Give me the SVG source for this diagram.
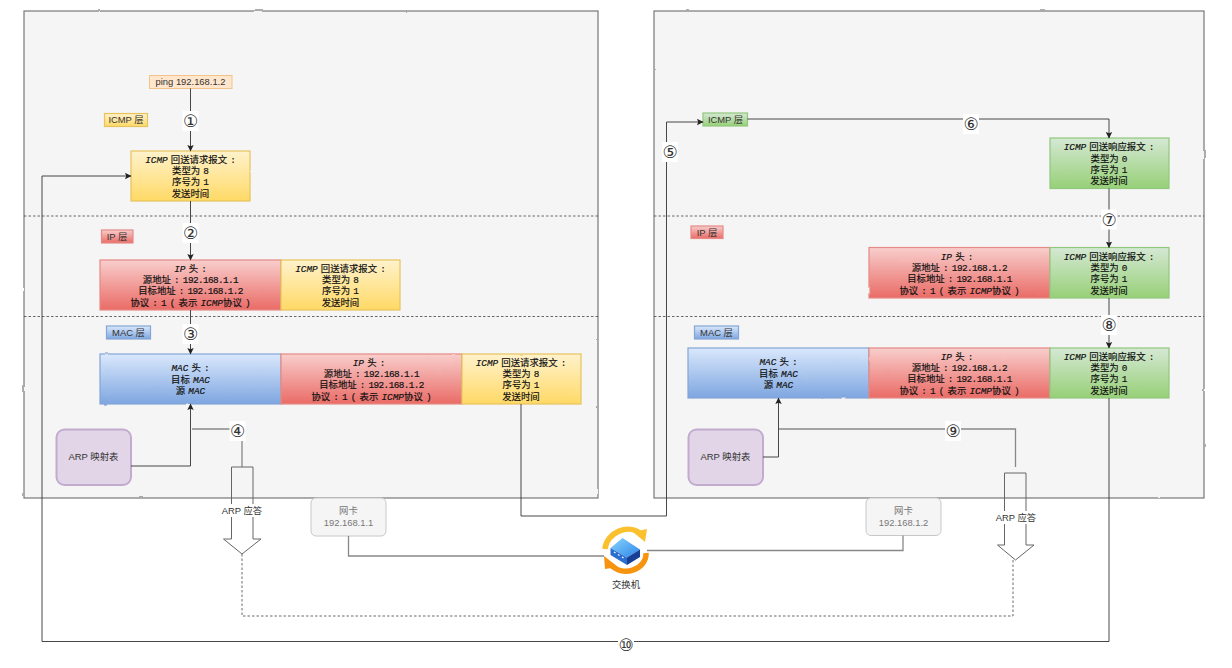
<svg xmlns="http://www.w3.org/2000/svg" width="1232" height="668" viewBox="0 0 1232 668">
<style>
text{text-anchor:middle}
.box{font:9.4px "Liberation Mono","Noto Sans CJK SC",monospace;fill:#111;stroke:#111;stroke-width:.18;word-spacing:-2.5px}
.box .l{font-style:italic}
.box .n{letter-spacing:-.6px}
.lab{font:9.4px "Liberation Sans","Noto Sans CJK SC",sans-serif;fill:#333}
.gr{fill:#777}
.num{font:17px "DejaVu Sans",sans-serif;fill:#333}
.panel{fill:#f5f5f5;stroke:#777;stroke-width:1.2}
.dash{stroke:#444;stroke-width:.8;stroke-dasharray:2.5 2;fill:none}
.y{fill:url(#gy);stroke:#e6c35c;stroke-width:1.2}
.r{fill:url(#gr);stroke:#e58a86;stroke-width:1.2}
.b{fill:url(#gb);stroke:#84a6d6;stroke-width:1.2}
.g{fill:url(#gg);stroke:#92c77e;stroke-width:1.2}
.w{filter:url(#wob)}
.c{fill:none;stroke:#333;stroke-width:.9}
.c2{fill:none;stroke:#888;stroke-width:1.3}
.ar{fill:none;stroke:#666;stroke-width:1}
.bg{fill:#fff}
</style>
<defs>
<filter id="wob"><feTurbulence type="fractalNoise" baseFrequency="0.06" numOctaves="2" seed="4"/><feDisplacementMap in="SourceGraphic" scale="1.8" xChannelSelector="R" yChannelSelector="G"/></filter>
<linearGradient id="gy" x1="0" y1="0" x2="0" y2="1"><stop offset="0" stop-color="#fff2cc"/><stop offset="1" stop-color="#ffd966"/></linearGradient>
<linearGradient id="gr" x1="0" y1="0" x2="0" y2="1"><stop offset="0" stop-color="#f8cecc"/><stop offset="1" stop-color="#ea6b66"/></linearGradient>
<linearGradient id="gb" x1="0" y1="0" x2="0" y2="1"><stop offset="0" stop-color="#dae8fc"/><stop offset="1" stop-color="#7ea6e0"/></linearGradient>
<linearGradient id="gg" x1="0" y1="0" x2="0" y2="1"><stop offset="0" stop-color="#d5e8d4"/><stop offset="1" stop-color="#97d077"/></linearGradient>
<linearGradient id="gt" x1="0" y1="0" x2="1" y2="1"><stop offset="0" stop-color="#8ad4fb"/><stop offset="1" stop-color="#2b86ea"/></linearGradient>
<marker id="a" markerWidth="7" markerHeight="7" refX="6" refY="3.5" orient="auto" markerUnits="userSpaceOnUse"><path d="M0 .3L6.5 3.5 0 6.7 1.2 3.5z" fill="#222"/></marker>
</defs>

<g id="host-left"><rect class="panel w" x="24" y="11" width="574" height="487"/></g>
<g id="host-right"><rect class="panel w" x="654" y="11" width="550" height="487"/></g>
<g id="layer-lines">
<path class="dash" d="M24 216H598M24 316.500H598M654 216H1204M654 316.500H1204"/>
</g>

<g id="ping"><rect x="149.500" y="75.500" width="82.500" height="13" fill="#ffe6cc" stroke="#f2c48c" stroke-width="1"/><text class="lab" x="190.500" y="85">ping 192.168.1.2</text></g>
<g id="label-icmp-l"><rect class="y" x="104.500" y="113.500" width="43" height="13" stroke-width="1"/><text class="lab" x="126" y="123">ICMP 层</text></g>
<g id="icmp-req-1"><rect class="y w" x="131" y="151" width="119" height="50"/><text class="box" x="190.500"><tspan x="190.500" y="162.500"><tspan class="l">ICMP</tspan> 回送请求报文 :</tspan><tspan x="190.500" y="174">类型为 8</tspan><tspan x="190.500" y="185.200">序号为 1</tspan><tspan x="190.500" y="196.500">发送时间</tspan></text></g>

<g id="label-ip-l"><rect class="r" x="101.500" y="230" width="31.500" height="13" stroke-width="1"/><text class="lab" x="117" y="240">IP 层</text></g>
<g id="ip-head-1"><rect class="r w" x="100" y="260" width="181" height="50"/><text class="box"><tspan x="190.500" y="271.500"><tspan class="l">IP</tspan> 头 :</tspan><tspan x="190.500" y="283">源地址 : <tspan class="n">192.168.1.1</tspan></tspan><tspan x="190.500" y="294.200">目标地址 : <tspan class="n">192.168.1.2</tspan></tspan><tspan x="190.500" y="305.500">协议 : 1 ( 表示 <tspan class="l">ICMP</tspan>协议 )</tspan></text></g>
<g id="icmp-req-2"><rect class="y w" x="281" y="260" width="119" height="50"/><text class="box"><tspan x="340.500" y="271.500"><tspan class="l">ICMP</tspan> 回送请求报文 :</tspan><tspan x="340.500" y="283">类型为 8</tspan><tspan x="340.500" y="294.200">序号为 1</tspan><tspan x="340.500" y="305.500">发送时间</tspan></text></g>

<g id="label-mac-l"><rect class="b" x="106.500" y="326" width="44" height="13" stroke-width="1"/><text class="lab" x="128.500" y="335.500">MAC 层</text></g>
<g id="mac-head-1"><rect class="b w" x="100" y="354" width="181" height="50"/><text class="box"><tspan x="190.500" y="371"><tspan class="l">MAC</tspan> 头 :</tspan><tspan x="190.500" y="382.500">目标 <tspan class="l">MAC</tspan></tspan><tspan x="190.500" y="393.700">源 <tspan class="l">MAC</tspan></tspan></text></g>
<g id="ip-head-2"><rect class="r w" x="281" y="354" width="181" height="50"/><text class="box"><tspan x="369" y="365.500"><tspan class="l">IP</tspan> 头 :</tspan><tspan x="371.500" y="377">源地址 : <tspan class="n">192.168.1.1</tspan></tspan><tspan x="371.500" y="388.200">目标地址 : <tspan class="n">192.168.1.2</tspan></tspan><tspan x="371.500" y="399.500">协议 : 1 ( 表示 <tspan class="l">ICMP</tspan>协议 )</tspan></text></g>
<g id="icmp-req-3"><rect class="y w" x="462" y="354" width="119" height="50"/><text class="box"><tspan x="521" y="365.500"><tspan class="l">ICMP</tspan> 回送请求报文 :</tspan><tspan x="521" y="377">类型为 8</tspan><tspan x="521" y="388.200">序号为 1</tspan><tspan x="521" y="399.500">发送时间</tspan></text></g>

<g id="arp-table-l"><rect x="56.500" y="429.500" width="74.500" height="55.500" rx="8" fill="#e1d5e7" stroke="#c3abd0" stroke-width="2"/><text class="lab" x="93.500" y="460">ARP 映射表</text></g>

<g id="label-icmp-r"><rect class="g" x="703" y="113" width="44.500" height="13" stroke-width="1"/><text class="lab" x="725.500" y="123">ICMP 层</text></g>
<g id="icmp-rep-1"><rect class="g w" x="1050" y="138" width="119" height="50.500"/><text class="box"><tspan x="1109" y="150"><tspan class="l">ICMP</tspan> 回送响应报文 :</tspan><tspan x="1109" y="161.500">类型为 0</tspan><tspan x="1109" y="172.700">序号为 1</tspan><tspan x="1109" y="184">发送时间</tspan></text></g>

<g id="label-ip-r"><rect class="r" x="691" y="226" width="32" height="12.500" stroke-width="1"/><text class="lab" x="707" y="235.500">IP 层</text></g>
<g id="ip-head-3"><rect class="r w" x="869" y="247.500" width="181" height="50.500"/><text class="box"><tspan x="957" y="259.500"><tspan class="l">IP</tspan> 头 :</tspan><tspan x="959.500" y="271">源地址 : <tspan class="n">192.168.1.2</tspan></tspan><tspan x="959.500" y="282.200">目标地址 : <tspan class="n">192.168.1.1</tspan></tspan><tspan x="959.500" y="293.500">协议 : 1 ( 表示 <tspan class="l">ICMP</tspan>协议 )</tspan></text></g>
<g id="icmp-rep-2"><rect class="g w" x="1050" y="247.500" width="119" height="50.500"/><text class="box"><tspan x="1109" y="259.500"><tspan class="l">ICMP</tspan> 回送响应报文 :</tspan><tspan x="1109" y="271">类型为 0</tspan><tspan x="1109" y="282.200">序号为 1</tspan><tspan x="1109" y="293.500">发送时间</tspan></text></g>

<g id="label-mac-r"><rect class="b" x="694.500" y="326" width="44" height="13" stroke-width="1"/><text class="lab" x="716.500" y="335.500">MAC 层</text></g>
<g id="mac-head-2"><rect class="b w" x="688" y="348" width="181" height="50"/><text class="box"><tspan x="778.500" y="365"><tspan class="l">MAC</tspan> 头 :</tspan><tspan x="778.500" y="376.500">目标 <tspan class="l">MAC</tspan></tspan><tspan x="778.500" y="387.700">源 <tspan class="l">MAC</tspan></tspan></text></g>
<g id="ip-head-4"><rect class="r w" x="869" y="348" width="181" height="50"/><text class="box"><tspan x="957" y="359.500"><tspan class="l">IP</tspan> 头 :</tspan><tspan x="959.500" y="371">源地址 : <tspan class="n">192.168.1.2</tspan></tspan><tspan x="959.500" y="382.200">目标地址 : <tspan class="n">192.168.1.1</tspan></tspan><tspan x="959.500" y="393.500">协议 : 1 ( 表示 <tspan class="l">ICMP</tspan>协议 )</tspan></text></g>
<g id="icmp-rep-3"><rect class="g w" x="1050" y="348" width="119" height="50"/><text class="box"><tspan x="1109" y="359.500"><tspan class="l">ICMP</tspan> 回送响应报文 :</tspan><tspan x="1109" y="371">类型为 0</tspan><tspan x="1109" y="382.200">序号为 1</tspan><tspan x="1109" y="393.500">发送时间</tspan></text></g>

<g id="arp-table-r"><rect x="688.500" y="429.500" width="74.500" height="55.500" rx="8" fill="#e1d5e7" stroke="#c3abd0" stroke-width="2"/><text class="lab" x="725.500" y="460">ARP 映射表</text></g>

<g id="nic-l"><rect x="311" y="498" width="75" height="38" rx="5" fill="#f5f5f5" stroke="#c8c8c8" stroke-width="1"/><text class="lab gr"><tspan x="348.500" y="514">网卡</tspan><tspan x="348.500" y="526">192.168.1.1</tspan></text></g>
<g id="nic-r"><rect x="866" y="498" width="75" height="37.500" rx="5" fill="#f5f5f5" stroke="#c8c8c8" stroke-width="1"/><text class="lab gr"><tspan x="903.500" y="514">网卡</tspan><tspan x="903.500" y="526">192.168.1.2</tspan></text></g>

<g id="switch">
<path d="M605 549C606 533 629 522 642 535" fill="none" stroke="#fbc02d" stroke-width="5.500"/><path d="M633 532L647 529 645 542z" fill="#fbc02d"/>
<path d="M646 553C647 569 623 578 611 565" fill="none" stroke="#f6930f" stroke-width="5.500"/><path d="M604 556L605 569 618 567z" fill="#f6930f"/>
<path d="M622.500 538L640 549.500 627 557.500 610.500 548z" fill="url(#gt)"/>
<path d="M610.500 548L627 557.500V565L610.500 555z" fill="#2a6fd0"/>
<path d="M627 557.500L640 549.500V557L627 565z" fill="#173f96"/>
<path d="M614 552l1.500 1M618 554.500l1.500 1M622 557l1.500 1" stroke="#fff" stroke-width="1.200"/>
<text class="lab" x="626" y="588">交换机</text>
</g>

<g id="connectors">
<path class="c" marker-end="url(#a)" d="M190.500 88.500V151"/>
<path class="c" marker-end="url(#a)" d="M190.500 201V260"/>
<path class="c" marker-end="url(#a)" d="M190.500 310V354"/>
<path class="c" marker-end="url(#a)" d="M131 466H190.500V404"/>
<path class="c2" d="M192 429H242V467"/>
<path class="c" d="M521 404V516H666.500V122H703" marker-end="url(#a)"/>
<path class="c" marker-end="url(#a)" d="M747.500 119H1109V138"/>
<path class="c" marker-end="url(#a)" d="M1109 188.500V247.500"/>
<path class="c" marker-end="url(#a)" d="M1109 298V348"/>
<path class="c" marker-end="url(#a)" d="M763 457H778.500V398"/>
<path class="c2" d="M779 429H1015.500V467"/>
<path class="c2" d="M348.500 536V556H604"/>
<path class="c2" d="M903 535.500V550.500H647"/>
<path class="dash" d="M242 554V616H1013V560"/>
<path class="c" marker-end="url(#a)" d="M1109 398V641.500H42V176H131"/>
<path class="ar" d="M231.500 467H253V539H261L242 554 223.500 539H231.500z"/>
<path class="ar" d="M1004.500 473H1026V545H1034L1015.500 560 997.500 545H1004.500z"/>
<g id="edge-labels">
<rect class="bg" x="182.500" y="111" width="16" height="20"/><text class="num" x="190.500" y="127">①</text>
<rect class="bg" x="182.500" y="223" width="16" height="20"/><text class="num" x="190.500" y="239">②</text>
<rect class="bg" x="182.500" y="324" width="16" height="20"/><text class="num" x="190.500" y="340">③</text>
<rect class="bg" x="229.500" y="421" width="16" height="20"/><text class="num" x="237.500" y="437">④</text>
<rect class="bg" x="662" y="142" width="16" height="20"/><text class="num" x="670" y="158">⑤</text>
<rect class="bg" x="963" y="114" width="16" height="20"/><text class="num" x="971" y="130">⑥</text>
<rect class="bg" x="1101" y="209.500" width="16" height="20"/><text class="num" x="1109" y="225.500">⑦</text>
<rect class="bg" x="1101" y="315" width="16" height="20"/><text class="num" x="1109" y="331">⑧</text>
<rect class="bg" x="945" y="421" width="16" height="20"/><text class="num" x="953" y="437">⑨</text>
<rect class="bg" x="618" y="635" width="16" height="20"/><text class="num" x="626" y="651">⑩</text>
<rect class="bg" x="221" y="504" width="42" height="13"/><text class="lab" x="242" y="514">ARP 应答</text>
<rect class="bg" x="995" y="511" width="42" height="13"/><text class="lab" x="1016" y="521">ARP 应答</text>
</g>
</g>
</svg>
